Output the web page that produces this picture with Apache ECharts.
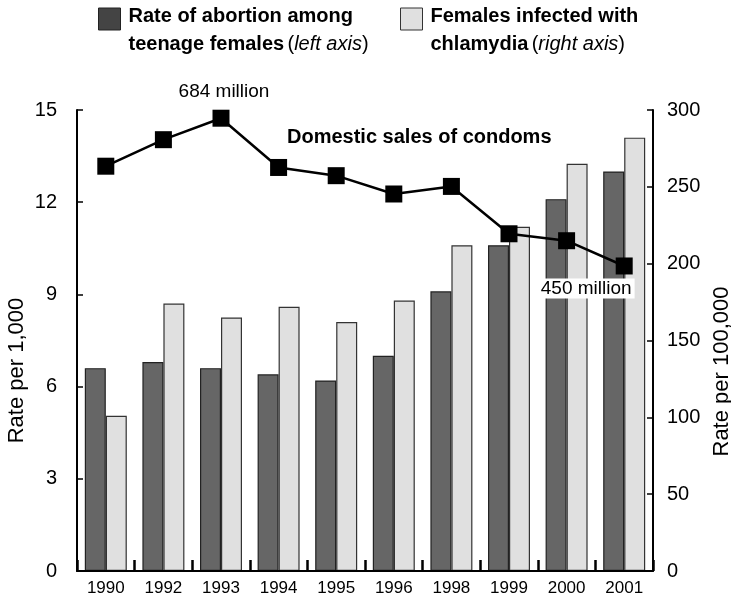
<!DOCTYPE html>
<html>
<head>
<meta charset="utf-8">
<script src="https://cdn.jsdelivr.net/npm/echarts@6/dist/echarts.min.js"></script>
<style>html,body{margin:0;padding:0;background:#fff}#c{width:731px;height:600px}</style>
</head>
<body>
<div id="c"></div>
<script>
const years = ['1990','1992','1993','1994','1995','1996','1998','1999','2000','2001'];
const abortionRate = [6.6, 6.8, 6.6, 6.4, 6.2, 7.0, 9.1, 10.6, 12.1, 13.0];
const chlamydiaRate = [101, 174, 165, 172, 162, 176, 212, 224, 265, 282];
const condomSales = [608, 650, 684, 606, 593, 564, 576, 501, 490, 450];
const condomLabels = {2: '684 million', 9: '450 million'};
const leftTicks = {min: 0, max: 15, interval: 3};
const rightTicks = {min: 0, max: 300, interval: 50};

const FONT = "'Liberation Sans', Arial, Helvetica, sans-serif";
const chart = echarts.init(document.getElementById('c'), null, {renderer: 'canvas'});

const condomData = condomSales.map((v, i) => {
  if (!(i in condomLabels)) return v;
  const lbl = {show: true, formatter: condomLabels[i], color: '#000', fontSize: 19, fontFamily: FONT};
  if (i === 9) {
    Object.assign(lbl, {position: 'bottom', distance: 4, offset: [-38, 0], backgroundColor: '#fff', padding: [1, 3, 0, 3]});
  } else {
    Object.assign(lbl, {position: 'top', distance: 8, offset: [3, 0]});
  }
  return {value: v, label: lbl};
});

const rich = {
  b: {fontWeight: 'bold', fontSize: 20, lineHeight: 28, fontFamily: FONT, color: '#000'},
  n: {fontSize: 20, lineHeight: 28, fontFamily: FONT, color: '#000'},
  i: {fontStyle: 'italic', fontSize: 20, lineHeight: 28, fontFamily: FONT, color: '#000'}
};

const legendBase = {
  orient: 'vertical', padding: 0, itemWidth: 22, itemHeight: 22, icon: 'rect',
  selectedMode: false, top: 6,
  textStyle: {padding: [22, 0, 0, 3], rich: rich}
};

chart.setOption({
  animation: false,
  backgroundColor: '#fff',
  textStyle: {fontFamily: FONT},
  legend: [
    Object.assign({}, legendBase, {
      left: 98,
      data: [{name: 'abortion', itemStyle: {color: '#444', borderColor: '#222', borderWidth: 1}}],
      formatter: () => '{b|Rate of abortion among}\n{b|teenage females} {n|(}{i|left axis}{n|)}'
    }),
    Object.assign({}, legendBase, {
      left: 400,
      data: [{name: 'chlamydia', itemStyle: {color: '#e0e0e0', borderColor: '#333', borderWidth: 1}}],
      formatter: () => '{b|Females infected with}\n{b|chlamydia} {n|(}{i|right axis}{n|)}'
    })
  ],
  grid: {left: 77, right: 78, top: 110, bottom: 29, containLabel: false, outerBoundsMode: 'none'},
  xAxis: {
    type: 'category', data: years, boundaryGap: true, z: 10,
    axisLine: {onZero: false, lineStyle: {color: '#000', width: 2}},
    axisTick: {show: true, inside: true, length: 11, interval: 0, alignWithLabel: false, lineStyle: {color: '#000', width: 2.5}},
    axisLabel: {color: '#000', fontSize: 17, margin: 9, interval: 0, fontFamily: FONT},
    splitLine: {show: false}
  },
  yAxis: [
    {
      type: 'value', position: 'left', min: leftTicks.min, max: leftTicks.max, interval: leftTicks.interval,
      name: 'Rate per 1,000', nameLocation: 'middle', nameRotate: 90, nameGap: 49, nameMoveOverlap: false,
      nameTextStyle: {color: '#000', fontSize: 22, fontFamily: FONT, padding: [0, 60, 0, 0]},
      axisLine: {show: true, lineStyle: {color: '#000', width: 2}},
      axisTick: {show: true, inside: true, length: 6, lineStyle: {color: '#000', width: 1.5}},
      axisLabel: {color: '#000', fontSize: 20, margin: 20, fontFamily: FONT},
      splitLine: {show: false}
    },
    {
      type: 'value', position: 'right', min: rightTicks.min, max: rightTicks.max, interval: rightTicks.interval,
      name: 'Rate per 100,000', nameLocation: 'middle', nameRotate: 90, nameGap: 52,
      nameTextStyle: {color: '#000', fontSize: 22, fontFamily: FONT, padding: [0, 62, 0, 0]},
      axisLine: {show: true, lineStyle: {color: '#000', width: 2}},
      axisTick: {show: true, inside: true, length: 6, lineStyle: {color: '#000', width: 1.5}},
      axisLabel: {color: '#000', fontSize: 20, margin: 14, fontFamily: FONT},
      splitLine: {show: false}
    },
    {
      type: 'value', show: false, min: -33, max: 697, position: 'right'
    }
  ],
  series: [
    {
      name: 'abortion', type: 'bar', yAxisIndex: 0, data: abortionRate,
      barWidth: 21, barGap: '0%',
      itemStyle: {color: '#666', borderColor: '#222', borderWidth: 1.2}
    },
    {
      name: 'chlamydia', type: 'bar', yAxisIndex: 1, data: chlamydiaRate,
      barWidth: 21, barGap: '0%',
      itemStyle: {color: '#e0e0e0', borderColor: '#333', borderWidth: 1.2}
    },
    {
      name: 'Domestic sales of condoms', type: 'line', yAxisIndex: 2, data: condomData,
      z: 5, symbol: 'rect', symbolSize: 17,
      lineStyle: {color: '#000', width: 2.5},
      itemStyle: {color: '#000'}
    }
  ],
  graphic: [
    {
      type: 'text', left: 287, top: 127, z: 10,
      style: {text: 'Domestic sales of condoms', fill: '#000', font: 'bold 20px ' + FONT}
    }
  ]
});
</script>
</body>
</html>
